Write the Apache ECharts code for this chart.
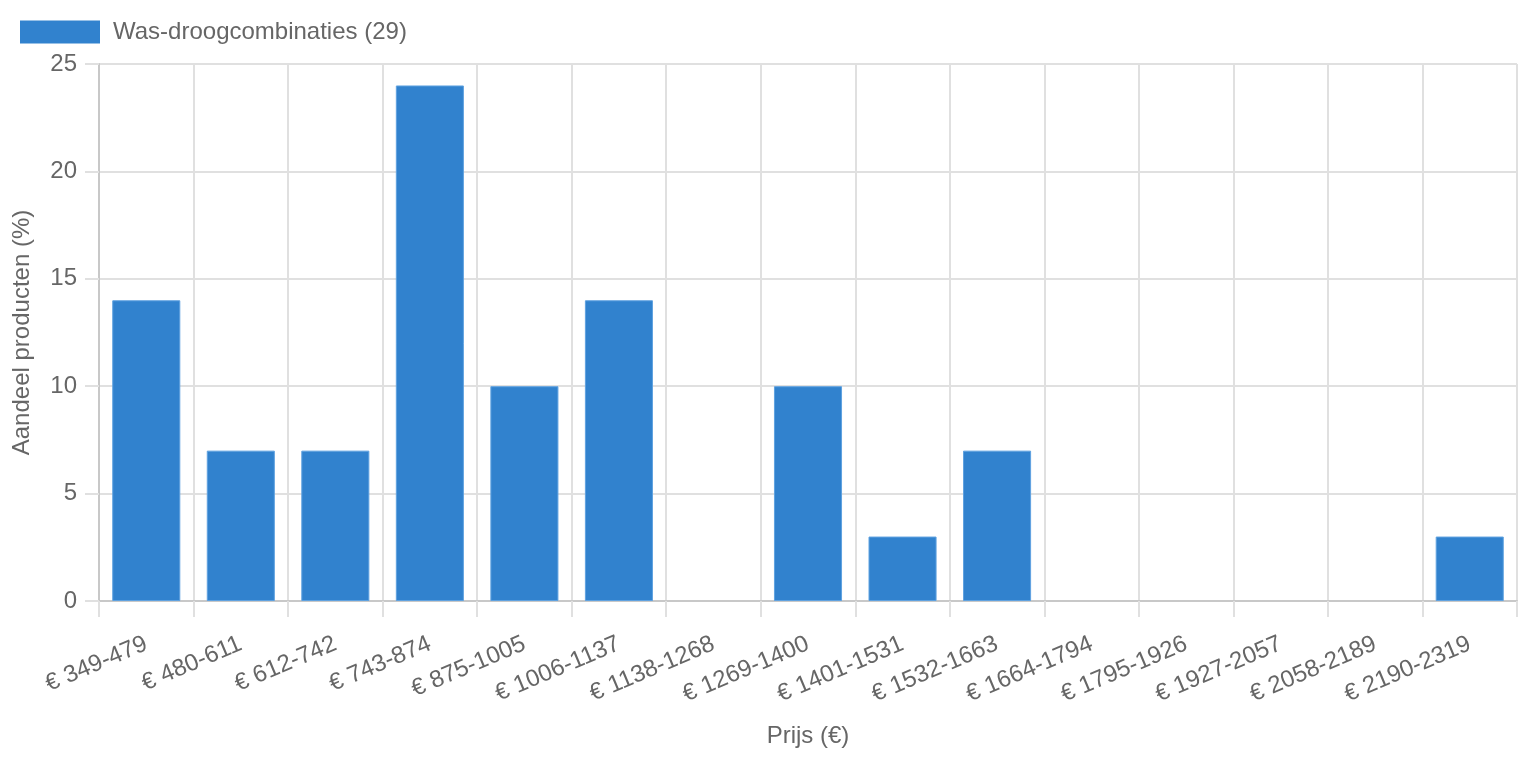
<!DOCTYPE html>
<html>
<head>
<meta charset="utf-8">
<script src="https://cdn.jsdelivr.net/npm/echarts@6/dist/echarts.min.js"></script>
<style>
html,body{margin:0;padding:0;background:#fff;}
#chart{width:1518px;height:758px;}
</style>
</head>
<body>
<div id="chart"></div>
<script>
const categories = ['€ 349-479','€ 480-611','€ 612-742','€ 743-874','€ 875-1005','€ 1006-1137','€ 1138-1268','€ 1269-1400','€ 1401-1531','€ 1532-1663','€ 1664-1794','€ 1795-1926','€ 1927-2057','€ 2058-2189','€ 2190-2319'];
const values = [14, 7, 7, 24, 10, 14, 0, 10, 3, 7, 0, 0, 0, 0, 3];
const seriesName = 'Was-droogcombinaties (29)';
const yAxisName = 'Aandeel producten (%)';
const xAxisName = 'Prijs (€)';

const FONT = '"Liberation Sans", Arial, Helvetica, sans-serif';
const TXT = '#666';
const FS = 24;
const chart = echarts.init(document.getElementById('chart'), null, {renderer: 'canvas'});
chart.setOption({
  animation: false,
  textStyle: {fontFamily: FONT, color: TXT},
  legend: {
    left: 15, top: 15,
    itemWidth: 80, itemHeight: 23,
    icon: 'rect',
    itemStyle: {borderWidth: 0},
    textStyle: {fontFamily: FONT, fontSize: FS, color: TXT, padding: [2,0,0,8]},
    data: [seriesName]
  },
  grid: {left: 99, right: 1, top: 64, bottom: 157, containLabel: false, outerBoundsMode: 'none'},
  xAxis: {
    type: 'category',
    data: categories,
    name: xAxisName,
    nameLocation: 'middle',
    nameGap: 123,
    nameTextStyle: {fontFamily: FONT, fontSize: FS, color: TXT},
    axisLine: {show: true, lineStyle: {color: '#c8c8c8', width: 2}},
    axisTick: {show: true, length: 16, lineStyle: {color: '#e0e0e0', width: 2}},
    splitLine: {show: true, lineStyle: {color: '#e0e0e0', width: 2}},
    axisLabel: {rotate: 23, margin: 42, fontFamily: FONT, fontSize: FS, color: TXT, interval: 0}
  },
  yAxis: {
    type: 'value',
    min: 0, max: 25, interval: 5,
    name: yAxisName,
    nameLocation: 'middle',
    nameGap: 65,
    nameTextStyle: {fontFamily: FONT, fontSize: FS, color: TXT},
    axisLine: {show: true, lineStyle: {color: '#c8c8c8', width: 2}},
    axisTick: {show: true, length: 14, lineStyle: {color: '#e0e0e0', width: 2}},
    splitLine: {show: true, lineStyle: {color: '#e0e0e0', width: 2}},
    axisLabel: {margin: 22, fontFamily: FONT, fontSize: FS, color: TXT}
  },
  series: [{
    name: seriesName,
    type: 'bar',
    data: values.map(v => v === 0 ? {value: v, itemStyle: {borderWidth: 0}} : v),
    barCategoryGap: '28%',
    itemStyle: {color: '#3182ce', borderColor: '#5fa2e0', borderWidth: 1}
  }]
});
</script>
</body>
</html>
